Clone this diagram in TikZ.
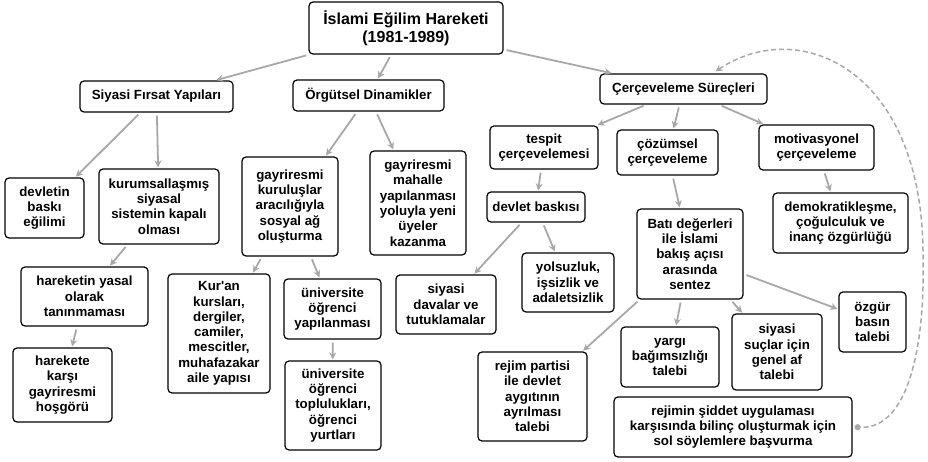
\documentclass[tikz,border=0pt]{standalone}
\usepackage{fontspec}
\newfontfamily\diagfont{Liberation Sans}
\usetikzlibrary{arrows.meta}
\definecolor{linkgray}{RGB}{168,168,168}
\begin{document}
\begin{tikzpicture}[x=1pt, y=-1pt,
		box/.style={draw, rounded corners=4pt, line width=1.2pt, align=center, inner sep=0pt, font=\diagfont\bfseries\fontsize{13.3}{15.3}\selectfont},
		link/.style={draw=linkgray, line width=1.8pt, {Stealth[length=7pt,width=7pt]}-, shorten <=1pt, shorten >=3pt},
		backlink/.style={draw=linkgray, line width=1.5pt, dash pattern=on 5pt off 3pt, {Stealth[length=7pt,width=7pt]}-{Circle[length=6pt]}}]
				\useasboundingbox (0,0) rectangle (928,462);
				\node[box, minimum width=194pt, minimum height=52pt, font=\diagfont\bfseries\fontsize{16}{18}\selectfont] (root) at (406,28) {İslami Eğilim Hareketi\\(1981-1989)};
				\node[box, minimum width=153pt, minimum height=31pt] (sfy) at (156.5,96.5) {Siyasi Fırsat Yapıları};
				\node[box, minimum width=151pt, minimum height=31pt] (od) at (368.5,95.5) {Örgütsel Dinamikler};
				\node[box, minimum width=167pt, minimum height=30pt] (cs) at (683.5,89) {Çerçeveleme Süreçleri};
				\node[box, minimum width=108pt, minimum height=43pt] (tc) at (544,147.5) {tespit\\çerçevelemesi};
				\node[box, minimum width=101pt, minimum height=45pt] (cc) at (667.5,152.5) {çözümsel\\çerçeveleme};
				\node[box, minimum width=115pt, minimum height=45pt] (mc) at (816.5,147.5) {motivasyonel\\çerçeveleme};
				\node[box, minimum width=79pt, minimum height=60pt] (dbe) at (44.5,208) {devletin\\baskı\\eğilimi};
				\node[box, minimum width=120pt, minimum height=75pt] (ksk) at (159,206.5) {kurumsallaşmış\\siyasal\\sistemin kapalı\\olması};
				\node[box, minimum width=96pt, minimum height=99pt] (gkr) at (290,206.5) {gayriresmi\\kuruluşlar\\aracılığıyla\\sosyal ağ\\oluşturma};
				\node[box, minimum width=96pt, minimum height=104pt] (gmy) at (418,203) {gayriresmi\\mahalle\\yapılanması\\yoluyla yeni\\üyeler\\kazanma};
				\node[box, minimum width=127pt, minimum height=59pt] (hyt) at (84.5,296.5) {hareketin yasal\\olarak\\tanınmaması};
				\node[box, minimum width=102pt, minimum height=119pt] (kkd) at (219,333.5) {Kur'an\\kursları,\\dergiler,\\camiler,\\mescitler,\\muhafazakar\\aile yapısı};
				\node[box, minimum width=97pt, minimum height=60pt] (uoy) at (332.5,309) {üniversite\\öğrenci\\yapılanması};
				\node[box, minimum width=100pt, minimum height=59pt] (sdt) at (446,304.5) {siyasi\\davalar ve\\tutuklamalar};
				\node[box, minimum width=99pt, minimum height=74pt] (hkg) at (62.5,385) {harekete\\karşı\\gayriresmi\\hoşgörü};
				\node[box, minimum width=96pt, minimum height=89pt] (uot) at (333,405.5) {üniversite\\öğrenci\\toplulukları,\\öğrenci\\yurtları};
				\node[box, minimum width=98pt, minimum height=30pt] (db) at (536,207) {devlet baskısı};
				\node[box, minimum width=92pt, minimum height=59pt] (yia) at (568,282.5) {yolsuzluk,\\işsizlik ve\\adaletsizlik};
				\node[box, minimum width=106pt, minimum height=90pt] (bdi) at (690,254) {Batı değerleri\\ile İslami\\bakış açısı\\arasında\\sentez};
				\node[box, minimum width=135pt, minimum height=60pt] (dco) at (840.5,223) {demokratikleşme,\\çoğulculuk ve\\inanç özgürlüğü};
				\node[box, minimum width=67pt, minimum height=60pt] (obt) at (872.5,322) {özgür\\basın\\talebi};
				\node[box, minimum width=98pt, minimum height=60pt] (ybt) at (670,357) {yargı\\bağımsızlığı\\talebi};
				\node[box, minimum width=90pt, minimum height=76pt] (sgt) at (777,352) {siyasi\\suçlar için\\genel af\\talebi};
				\node[box, minimum width=109pt, minimum height=89pt] (rpd) at (532.5,396.5) {rejim partisi\\ile devlet\\aygıtının\\ayrılması\\talebi};
				\node[box, minimum width=238pt, minimum height=60pt] (rsu) at (733,427) {rejimin şiddet uygulaması\\karşısında bilinç oluşturmak için\\sol söylemlere başvurma};
				\draw[link] (sfy) -- (root);
				\draw[link] (od) -- (root);
				\draw[link] (cs) -- (root);
				\draw[link] (dbe) -- (sfy);
				\draw[link] (ksk) -- (sfy);
				\draw[link] (gkr) -- (od);
				\draw[link] (gmy) -- (od);
				\draw[link] (tc) -- (cs);
				\draw[link] (cc) -- (cs);
				\draw[link] (mc) -- (cs);
				\draw[link] (hyt) -- (ksk);
				\draw[link] (hkg) -- (hyt);
				\draw[link] (kkd) -- (gkr);
				\draw[link] (uoy) -- (gkr);
				\draw[link] (uot) -- (uoy);
				\draw[link] (db) -- (tc);
				\draw[link] (sdt) -- (db);
				\draw[link] (yia) -- (db);
				\draw[link] (bdi) -- (cc);
				\draw[link] (dco) -- (mc);
				\draw[link] (obt) -- (bdi);
				\draw[link] (rpd) -- (bdi);
				\draw[link] (ybt) -- (bdi);
				\draw[link] (sgt) -- (bdi);
				\draw[backlink] ([xshift=32pt, yshift=2pt]cs.north) .. controls (800,15) and (925,70) .. (923,260) .. controls (925,340) and (910,430) .. ([xshift=2pt]rsu.east);
			\end{tikzpicture}
\end{document}
